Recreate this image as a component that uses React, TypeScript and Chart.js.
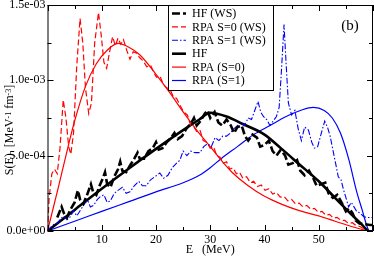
import React, { useEffect, useRef } from "react";
import { Chart, registerables } from "chart.js";

Chart.register(...registerables);

// values are in units of 1e-4 MeV^-1 fm^-3
const Y_UNIT = 1e-4;

const xTickValues = [0, 10, 20, 30, 40, 50, 60];
const xTickLabels = ["", "10", "20", "30", "40", "50", ""];
const xMinorTicks = [5, 15, 25, 35, 45, 55];
const yTickValues = [0, 5e-4, 1e-3, 1.5e-3];
const yTickLabels = ["0.0e+00", "5.0e-04", "1.0e-03", "1.5e-03"];
const yMinorTicks = [2.5e-4, 7.5e-4, 1.25e-3];

const seriesNames = ["HF (WS)", "RPA S=0 (WS)", "RPA S=1 (WS)", "HF", "RPA (S=0)", "RPA (S=1)"];

const hfWs: [number, number][] = [
  [1.8, 0.9], [2.6, 1.6], [3.0, 1.2], [3.6, 0.9], [4.2, 1.4], [5.0, 1.9], [5.6, 2.7], [6.0, 2.1],
  [6.6, 1.8], [7.3, 2.4], [8.0, 3.1], [8.4, 2.6], [9.0, 2.4], [9.6, 3.0], [10.2, 3.5], [10.6, 3.9],
  [11.0, 3.1], [11.6, 2.9], [12.3, 3.6], [13.0, 4.1], [13.4, 4.6], [13.8, 4.0], [14.5, 3.9], [15.3, 4.4],
  [16.0, 4.8], [16.6, 5.2], [17.0, 4.8], [17.8, 4.8], [18.6, 5.3], [19.4, 5.5], [20.0, 5.9], [20.5, 5.4],
  [21.2, 5.5], [22.0, 5.9], [22.8, 6.2], [23.4, 6.5], [24.0, 6.1], [24.8, 6.3], [25.6, 6.8], [26.4, 7.1],
  [27.0, 7.5], [27.5, 7.0], [28.2, 7.3], [29.0, 7.8], [29.5, 8.0], [30.0, 7.5], [30.8, 7.9], [31.5, 7.2],
  [32.2, 7.0], [33.0, 7.4], [33.8, 7.0], [34.4, 6.5], [35.0, 6.9], [35.8, 7.0], [36.4, 6.3], [37.0, 6.0],
  [37.8, 6.4], [38.6, 6.2], [39.2, 5.6], [40.0, 5.7], [40.8, 6.0], [41.5, 5.3], [42.2, 5.0], [43.0, 5.4],
  [43.8, 5.0], [44.4, 4.4], [45.2, 4.5], [46.0, 4.7], [46.6, 4.0], [47.4, 3.7], [48.2, 4.0], [49.0, 3.5],
  [49.6, 3.0], [50.4, 3.1], [51.2, 3.2], [51.8, 2.5], [52.6, 2.2], [53.4, 2.4], [54.2, 1.9], [55.0, 1.3],
  [55.6, 1.5], [56.2, 1.2], [56.8, 0.7], [57.5, 0.5], [58.5, 0.45], [59.5, 0.4], [60.0, 0.4],
];

const rpaS0Ws: [number, number][] = [
  [0, 0], [0.3, 2.2], [0.8, 3.8], [1.3, 4.1], [1.8, 3.8], [2.3, 5.5], [2.9, 8.7], [3.4, 7.5],
  [3.9, 5.6], [4.3, 5.1], [4.8, 6.5], [5.4, 11.0], [6.0, 14.1], [6.5, 12.5], [7.0, 9.5], [7.6, 7.8],
  [8.1, 8.5], [8.7, 12.5], [9.4, 14.5], [9.9, 13.0], [10.4, 11.2], [10.9, 10.8], [11.4, 11.8], [12.0, 12.9],
  [12.5, 12.3], [13.0, 12.8], [13.5, 12.4], [14.0, 12.7], [14.6, 12.0], [15.2, 11.4], [15.8, 11.9], [16.4, 11.8],
  [17.0, 11.5], [17.6, 11.3], [18.3, 10.9], [19.0, 11.0], [19.6, 10.5], [20.1, 10.2], [20.7, 10.3], [21.4, 9.7],
  [22.0, 9.5], [22.6, 9.4], [23.2, 8.9], [23.8, 8.8], [24.5, 8.3], [25.1, 7.9], [25.8, 7.7], [26.4, 7.0],
  [27.0, 6.9], [27.5, 6.6], [28.1, 6.7], [28.7, 6.0], [29.3, 5.9], [30.0, 5.5], [30.6, 5.6], [31.2, 5.0],
  [31.8, 4.9], [32.4, 4.5], [33.0, 4.6], [33.6, 4.1], [34.2, 4.2], [34.8, 3.8], [35.4, 3.9], [36.0, 3.5],
  [36.7, 3.6], [37.4, 3.2], [38.0, 3.3], [38.7, 2.95], [39.4, 3.05], [40.1, 2.7], [40.8, 2.8], [41.5, 2.45],
  [42.2, 2.55], [42.9, 2.25], [43.6, 2.3], [44.3, 2.0], [45.0, 2.1], [45.7, 1.8], [46.4, 1.85], [47.1, 1.6],
  [47.8, 1.7], [48.5, 1.45], [49.2, 1.5], [49.9, 1.25], [50.6, 1.3], [51.3, 1.05], [52.0, 1.1], [52.7, 0.85],
  [53.4, 0.9], [54.1, 0.7], [54.8, 0.7], [55.5, 0.5], [56.2, 0.55], [56.9, 0.35], [57.6, 0.3], [58.3, 0.15],
  [59.0, 0.0],
];

const rpaS1Ws: [number, number][] = [
  [0, 0], [0.6, 0.25], [1.2, 0.45], [1.8, 0.5], [2.4, 0.8], [3.0, 1.0], [3.6, 0.75], [4.2, 0.95],
  [4.8, 1.35], [5.4, 1.0], [6.1, 1.4], [6.8, 1.8], [7.4, 2.05], [7.9, 1.6], [8.5, 1.7], [9.2, 2.1],
  [9.8, 2.3], [10.4, 2.4], [11.0, 1.9], [11.6, 2.0], [12.3, 2.5], [13.0, 2.7], [13.8, 2.9], [14.5, 2.5],
  [15.2, 2.6], [16.0, 3.0], [16.8, 3.3], [17.5, 3.0], [18.2, 3.0], [19.0, 3.4], [19.8, 3.6], [20.7, 3.85],
  [21.4, 3.5], [22.2, 3.7], [23.0, 4.2], [23.8, 4.5], [24.4, 4.7], [25.0, 5.3], [25.7, 5.0], [26.4, 5.3],
  [27.2, 5.2], [28.1, 5.2], [28.8, 5.6], [29.5, 5.8], [30.2, 5.6], [30.9, 6.2], [31.6, 6.0], [32.3, 6.3],
  [33.0, 6.3], [33.7, 6.5], [34.4, 6.8], [35.0, 7.0], [35.6, 7.2], [36.3, 7.0], [37.0, 7.5], [37.6, 7.4],
  [38.2, 8.0], [38.8, 8.6], [39.3, 7.9], [39.8, 7.6], [40.4, 7.4], [41.0, 7.0], [41.6, 7.3], [42.2, 7.6],
  [42.7, 8.2], [43.1, 10.5], [43.6, 13.7], [44.0, 11.0], [44.4, 8.5], [45.0, 7.7], [45.6, 8.0], [46.2, 6.8],
  [46.8, 6.0], [47.4, 6.9], [48.1, 6.7], [48.7, 5.9], [49.2, 5.5], [49.8, 5.6], [50.4, 6.4], [51.1, 7.3],
  [51.6, 6.9], [52.1, 6.3], [52.6, 5.4], [53.1, 4.5], [53.6, 3.6], [54.1, 3.4], [54.6, 2.7], [55.1, 2.1],
  [55.5, 1.6], [56.0, 1.9], [56.5, 1.6], [57.0, 1.3], [57.6, 1.2], [58.3, 0.95], [59.0, 0.9], [60.0, 0.9],
];

const hf: [number, number][] = [
  [0, 0], [5, 1.4], [10, 2.8], [15, 4.15], [20, 5.45], [25, 6.7], [28, 7.4], [30, 7.85],
  [33, 7.6], [36, 7.1], [40, 6.4], [43, 5.5], [46.5, 4.4], [50, 3.3], [53, 2.2], [56, 1.1],
  [58, 0.4], [59, 0.0],
];

const rpaS0: [number, number][] = [
  [0, 0], [2, 2.9], [4, 5.9], [5, 7.3], [7, 9.6], [9, 11.1], [11, 12.0], [13, 12.45],
  [15, 12.2], [17, 11.7], [20, 10.4], [22.5, 9.2], [25, 7.9], [27.5, 6.7], [30, 5.6], [32, 4.7],
  [34, 3.9], [37, 3.0], [40, 2.3], [43, 1.8], [46, 1.4], [50, 1.0], [53, 0.65], [56, 0.3],
  [58, 0.1], [59, 0.0],
];

const rpaS1: [number, number][] = [
  [0, 0], [5, 0.65], [10, 1.3], [15, 1.95], [20, 2.6], [25, 3.2], [28, 3.7], [30, 4.2],
  [32, 4.8], [35, 5.6], [38, 6.4], [41, 7.0], [44, 7.6], [47, 8.05], [49, 8.2], [51, 8.0],
  [52.5, 7.5], [54, 6.5], [55.5, 4.8], [57, 2.6], [58, 1.4], [59, 0.2], [59.3, 0.0],
];

const FONT = "'Liberation Serif', 'Times New Roman', serif";

const toPts = (arr: [number, number][]) => arr.map(([x, y]) => ({ x, y: y * Y_UNIT }));

const styles = [
  { color: "#000000", width: 2.6, dash: [8, 3] },
  { color: "#ff0000", width: 1.2, dash: [6, 3] },
  { color: "#0000ff", width: 1.1, dash: [6, 2, 1.5, 2] },
  { color: "#000000", width: 2.6, dash: [] as number[] },
  { color: "#ff0000", width: 1.2, dash: [] as number[] },
  { color: "#0000ff", width: 1.2, dash: [] as number[] },
];

const seriesData = [hfWs, rpaS0Ws, rpaS1Ws, hf, rpaS0, rpaS1];

const framePlugin = {
  id: "frame",
  afterDatasetsDraw(chart: any) {
    const { ctx, chartArea: a, scales } = chart;
    const xs = scales.x, ys = scales.y;
    ctx.save();
    ctx.strokeStyle = "#000";
    ctx.lineWidth = 1;
    ctx.setLineDash([]);
    ctx.strokeRect(a.left + 0.5, a.top + 0.5, a.right - a.left - 1, a.bottom - a.top - 1);
    const tick = (vals: number[], len: number, isX: boolean) => {
      vals.forEach((v) => {
        ctx.beginPath();
        if (isX) {
          const p = Math.round(xs.getPixelForValue(v)) + 0.5;
          ctx.moveTo(p, a.bottom); ctx.lineTo(p, a.bottom - len);
          ctx.moveTo(p, a.top); ctx.lineTo(p, a.top + len);
        } else {
          const p = Math.round(ys.getPixelForValue(v)) + 0.5;
          ctx.moveTo(a.left, p); ctx.lineTo(a.left + len, p);
          ctx.moveTo(a.right, p); ctx.lineTo(a.right - len, p);
        }
        ctx.stroke();
      });
    };
    tick(xTickValues, 6, true);
    tick(xMinorTicks, 4, true);
    tick(yTickValues, 6, false);
    tick(yMinorTicks, 4, false);
    ctx.restore();
  },
  afterDraw(chart: any) {
    const { ctx, chartArea: a } = chart;
    ctx.save();
    // legend box
    const bx = 168, by = a.top, bw = 105, bh = 85;
    ctx.fillStyle = "#fff";
    ctx.fillRect(bx, by, bw, bh);
    ctx.strokeStyle = "#000";
    ctx.lineWidth = 1;
    ctx.setLineDash([]);
    ctx.strokeRect(bx + 0.5, by + 0.5, bw, bh);
    ctx.font = `12px ${FONT}`;
    ctx.textBaseline = "middle";
    ctx.textAlign = "left";
    seriesNames.forEach((name, i) => {
      const yy = by + 8.5 + i * 13.4;
      const s = styles[i];
      ctx.beginPath();
      ctx.strokeStyle = s.color;
      ctx.lineWidth = s.width;
      ctx.setLineDash(s.dash);
      ctx.moveTo(172, yy);
      ctx.lineTo(186, yy);
      ctx.stroke();
      ctx.setLineDash([]);
      ctx.fillStyle = "#000";
      ctx.fillText(name, 192, yy + 0.5);
    });
    // panel label
    ctx.font = `15px ${FONT}`;
    ctx.textAlign = "center";
    ctx.fillText("(b)", 350, 26);
    // y title with superscripts
    ctx.translate(9, 130);
    ctx.rotate(-Math.PI / 2);
    const parts: [string, boolean][] = [["S(E)  [MeV", false], ["-1", true], [" fm", false], ["-3", true], ["]", false]];
    const big = `12px ${FONT}`, small = `8px ${FONT}`;
    let total = 0;
    parts.forEach(([t, sup]) => { ctx.font = sup ? small : big; total += ctx.measureText(t).width; });
    let cx = -total / 2;
    ctx.textAlign = "left";
    ctx.textBaseline = "alphabetic";
    parts.forEach(([t, sup]) => {
      ctx.font = sup ? small : big;
      ctx.fillText(t, cx, sup ? 2 : 4);
      cx += ctx.measureText(t).width;
    });
    ctx.restore();
  },
};

export default function App() {
  const ref = useRef<HTMLCanvasElement | null>(null);
  useEffect(() => {
    if (!ref.current) return;
    const chart = new Chart(ref.current, {
      type: "line",
      data: {
        datasets: seriesData.map((d, i) => ({
          label: seriesNames[i],
          data: toPts(d),
          borderColor: styles[i].color,
          borderWidth: styles[i].width,
          borderDash: styles[i].dash,
          pointRadius: 0,
          fill: false,
          tension: i >= 3 ? 0.4 : 0,
          cubicInterpolationMode: i >= 3 ? "monotone" : "default",
        })),
      },
      options: {
        responsive: false,
        animation: false,
        layout: { padding: { top: 5, right: 1, left: 0, bottom: 0 } },
        plugins: { legend: { display: false }, tooltip: { enabled: false } },
        scales: {
          x: {
            type: "linear",
            min: 0,
            max: 60,
            grid: { display: false, drawTicks: false },
            border: { display: false },
            afterBuildTicks: (s: any) => { s.ticks = xTickValues.map((v) => ({ value: v })); },
            ticks: {
              color: "#000",
              font: { family: FONT, size: 12 },
              padding: 2,
              maxRotation: 0,
              autoSkip: false,
              callback: (_v: any, i: number) => xTickLabels[i],
            },
            title: { display: true, text: "E   (MeV)", color: "#000", font: { family: FONT, size: 12 }, padding: 0 },
            afterFit: (s: any) => { s.height = 26; s.paddingLeft = 0; s.paddingRight = 0; },
          },
          y: {
            type: "linear",
            min: 0,
            max: 1.5e-3,
            grid: { display: false, drawTicks: false },
            border: { display: false },
            afterBuildTicks: (s: any) => { s.ticks = yTickValues.map((v) => ({ value: v })); },
            ticks: {
              color: "#000",
              font: { family: FONT, size: 12 },
              padding: 2,
              autoSkip: false,
              callback: (_v: any, i: number) => yTickLabels[i],
            },
            afterFit: (s: any) => { s.width = 47.5; s.paddingTop = 0; s.paddingBottom = 0; },
          },
        },
      },
      plugins: [framePlugin],
    });
    return () => chart.destroy();
  }, []);
  return (
    <div style={{ position: "absolute", left: 0, top: 0, width: 374, height: 257, background: "#fff" }}>
      <canvas ref={ref} width={374} height={257} style={{ display: "block" }} />
    </div>
  );
}
